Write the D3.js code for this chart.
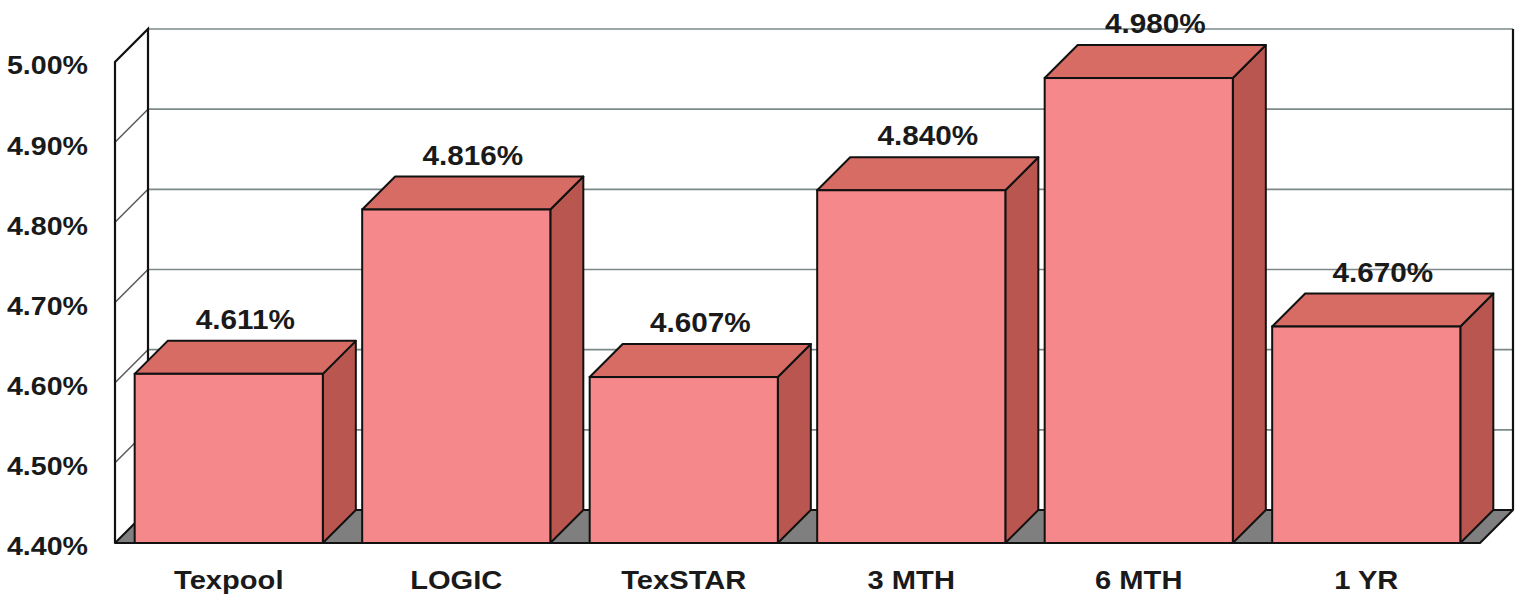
<!DOCTYPE html>
<html>
<head>
<meta charset="utf-8">
<script src="https://cdn.jsdelivr.net/npm/d3@7"></script>
<style>
  body { margin: 0; background: #fff; }
  text { font-family: "Liberation Sans", Arial, sans-serif; font-weight: bold; fill: #1a1a1a; }
</style>
</head>
<body>
<div id="chart"></div>
<script>
// Chart data
const categories = ['Texpool', 'LOGIC', 'TexSTAR', '3 MTH', '6 MTH', '1 YR'];
const values = [4.611, 4.816, 4.607, 4.840, 4.980, 4.670];
const valueLabels = ['4.611%', '4.816%', '4.607%', '4.840%', '4.980%', '4.670%'];
const yTicks = [4.40, 4.50, 4.60, 4.70, 4.80, 4.90, 5.00];

const width = 1515, height = 595;
const depth = 33; // 3d offset, x right and y up

const svg = d3.select('#chart').append('svg')
    .attr('width', width)
    .attr('height', height);

const y = d3.scaleLinear().domain([4.40, 5.00]).range([543, 62]);
const x = d3.scaleBand().domain(categories)
    .range([115, 1480])
    .paddingInner(0.173)
    .paddingOuter(0.0865);

const x0 = x.range()[0], x1 = x.range()[1];
const yBase = y(4.40);
const yTop = y(5.00);

// Back wall gridlines
svg.append('g').selectAll('line')
    .data(yTicks.slice(1))
    .enter().append('line')
    .attr('x1', x0 + depth).attr('x2', x1 + depth)
    .attr('y1', d => y(d) - depth).attr('y2', d => y(d) - depth)
    .attr('stroke', '#7d8888').attr('stroke-width', 1.6);

// Left side wall with diagonal gridlines
svg.append('g').selectAll('line')
    .data(yTicks.slice(1, -1))
    .enter().append('line')
    .attr('x1', x0).attr('x2', x0 + depth)
    .attr('y1', d => y(d)).attr('y2', d => y(d) - depth)
    .attr('stroke', '#555').attr('stroke-width', 1.4);

svg.append('path')
    .attr('d', `M${x0},${yBase}L${x0},${yTop}L${x0 + depth},${yTop - depth}L${x0 + depth},${yBase - depth}`)
    .attr('fill', 'none').attr('stroke', '#111').attr('stroke-width', 2.2);

// Right edge of back wall
svg.append('line')
    .attr('x1', x1 + depth).attr('x2', x1 + depth)
    .attr('y1', yTop - depth).attr('y2', yBase - depth)
    .attr('stroke', '#111').attr('stroke-width', 2.2);

// Floor
svg.append('path')
    .attr('d', `M${x0},${yBase}L${x1},${yBase}L${x1 + depth},${yBase - depth}L${x0 + depth},${yBase - depth}Z`)
    .attr('fill', '#7f7f7f').attr('stroke', '#111').attr('stroke-width', 2)
    .attr('stroke-linejoin', 'round');

// Bars
const bars = svg.append('g').selectAll('g')
    .data(categories.map((c, i) => ({ c, v: values[i], label: valueLabels[i] })))
    .enter().append('g');

const bw = x.bandwidth();

bars.append('path') // side
    .attr('d', d => {
        const r = x(d.c) + bw, t = y(d.v);
        return `M${r},${yBase}L${r},${t}L${r + depth},${t - depth}L${r + depth},${yBase - depth}Z`;
    })
    .attr('fill', '#b9564f').attr('stroke', '#111').attr('stroke-width', 2)
    .attr('stroke-linejoin', 'round');

bars.append('path') // top
    .attr('d', d => {
        const l = x(d.c), r = l + bw, t = y(d.v);
        return `M${l},${t}L${l + depth},${t - depth}L${r + depth},${t - depth}L${r},${t}Z`;
    })
    .attr('fill', '#d66c64').attr('stroke', '#111').attr('stroke-width', 2)
    .attr('stroke-linejoin', 'round');

bars.append('rect') // front
    .attr('x', d => x(d.c))
    .attr('y', d => y(d.v))
    .attr('width', bw)
    .attr('height', d => yBase - y(d.v))
    .attr('fill', '#f4888a').attr('stroke', '#111').attr('stroke-width', 2);

// Value labels
bars.append('text')
    .attr('transform', d => `translate(${x(d.c) + bw / 2 + depth / 2},${y(d.v) - 45}) scale(1.1,1)`)
    .attr('text-anchor', 'middle')
    .attr('font-size', 27)
    .text(d => d.label);

// Y axis labels
svg.append('g').selectAll('text')
    .data(yTicks)
    .enter().append('text')
    .attr('transform', d => `translate(88,${y(d) + 3}) scale(1.1,1)`)
    .attr('dy', '0.36em')
    .attr('text-anchor', 'end')
    .attr('font-size', 26)
    .text(d => d.toFixed(2) + '%');

// Category labels
svg.append('g').selectAll('text')
    .data(categories)
    .enter().append('text')
    .attr('transform', d => `translate(${x(d) + bw / 2},580) scale(1.12,1)`)
    .attr('dy', '0.36em')
    .attr('text-anchor', 'middle')
    .attr('font-size', 26)
    .text(d => d);
</script>
</body>
</html>
